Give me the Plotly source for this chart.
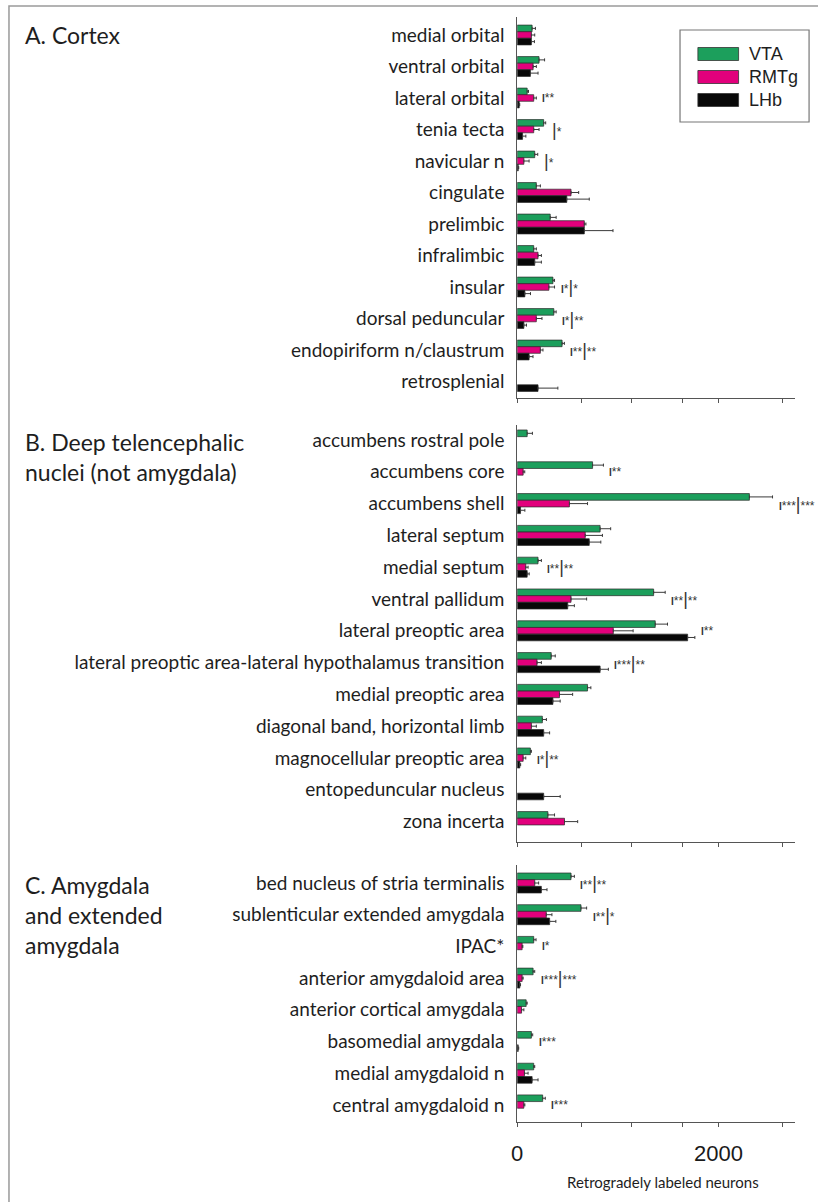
import plotly.graph_objects as go

W, H = 818, 1202

SERIES = ["VTA", "RMTg", "LHb"]
COLORS = {"VTA": "#1c9f5c", "RMTg": "#e2007c", "LHb": "#080808"}

# ---- A. Cortex ----
cortex = ["medial orbital", "ventral orbital", "lateral orbital", "tenia tecta",
          "navicular n", "cingulate", "prelimbic", "infralimbic", "insular",
          "dorsal peduncular", "endopiriform n/claustrum", "retrosplenial"]
cortex_vta = [148, 217, 99, 263, 174, 190, 328, 164, 355, 364, 446, None]
cortex_vta_err = [33, 55, 13, 20, 30, 40, 59, 26, 16, 23, 23, 0]
cortex_rmtg = [141, 158, 164, 164, 66, 535, 667, 207, 315, 190, 230, None]
cortex_rmtg_err = [33, 32, 26, 53, 52, 76, 16, 33, 56, 56, 26, 0]
cortex_lhb = [141, 131, 20, 53, 10, 493, 667, 174, 76, 66, 118, 207]
cortex_lhb_err = [30, 76, 5, 33, 5, 223, 285, 66, 56, 26, 39, 197]
cortex_sig = {"lateral orbital": "I**", "tenia tecta": "|*", "navicular n": "|*",
              "insular": "I*|*", "dorsal peduncular": "I*|**",
              "endopiriform n/claustrum": "I**|**"}

# ---- B. Deep telencephalic nuclei ----
deep = ["accumbens rostral pole", "accumbens core", "accumbens shell",
        "lateral septum", "medial septum", "ventral pallidum",
        "lateral preoptic area",
        "lateral preoptic area-lateral hypothalamus transition",
        "medial preoptic area", "diagonal band, horizontal limb",
        "magnocellular preoptic area", "entopeduncular nucleus", "zona incerta"]
deep_vta = [99, 749, 2308, 824, 207, 1356, 1372, 338, 699, 250, 131, None, 305]
deep_vta_err = [52, 108, 230, 105, 33, 115, 122, 40, 33, 40, 10, 0, 66]
deep_rmtg = [None, 59, 519, 676, 85, 535, 955, 197, 420, 141, 59, None, 470]
deep_rmtg_err = [0, 16, 180, 171, 23, 155, 197, 43, 131, 49, 26, 0, 131]
deep_lhb = [None, None, 33, 716, 99, 502, 1694, 824, 355, 263, 26, 263, None]
deep_lhb_err = [0, 0, 43, 115, 20, 66, 72, 82, 72, 59, 8, 164, 0]
deep_sig = {"accumbens core": "I**", "accumbens shell": "I***|***",
            "medial septum": "I**|**", "ventral pallidum": "I**|**",
            "lateral preoptic area": "I**",
            "lateral preoptic area-lateral hypothalamus transition": "I***|**",
            "magnocellular preoptic area": "I*|**"}

# ---- C. Amygdala and extended amygdala ----
amyg = ["bed nucleus of stria terminalis", "sublenticular extended amygdala",
        "IPAC*", "anterior amygdaloid area", "anterior cortical amygdala",
        "basomedial amygdala", "medial amygdaloid n", "central amygdaloid n"]
amyg_vta = [535, 634, 164, 158, 89, 141, 164, 253]
amyg_vta_err = [33, 56, 23, 16, 10, 13, 10, 26]
amyg_rmtg = [174, 289, 49, 49, 43, None, 72, 66]
amyg_rmtg_err = [39, 56, 7, 10, 23, 0, 36, 10]
amyg_lhb = [240, 322, None, 26, None, 10, 148, None]
amyg_lhb_err = [56, 62, 0, 7, 0, 5, 59, 0]
amyg_sig = {"bed nucleus of stria terminalis": "I**|**",
            "sublenticular extended amygdala": "I**|*", "IPAC*": "I*",
            "anterior amygdaloid area": "I***|***",
            "basomedial amygdala": "I***", "central amygdaloid n": "I***"}

x_tickvals = [0, 640, 1135, 1645, 2000, 2640]
x_ticktext = ["0", "", "", "", "2000", ""]
x_max = 2763

panels = [
    dict(cats=cortex, title="A. Cortex",
         vals=[cortex_vta, cortex_rmtg, cortex_lhb],
         errs=[cortex_vta_err, cortex_rmtg_err, cortex_lhb_err], sig=cortex_sig,
         top=17, bottom=398, first_row=35, row_step=31.5, head=19),
    dict(cats=deep, title="B. Deep telencephalic<br>nuclei (not amygdala)",
         vals=[deep_vta, deep_rmtg, deep_lhb],
         errs=[deep_vta_err, deep_rmtg_err, deep_lhb_err], sig=deep_sig,
         top=425, bottom=842, first_row=440, row_step=31.8, head=426),
    dict(cats=amyg, title="C. Amygdala<br>and extended<br>amygdala",
         vals=[amyg_vta, amyg_rmtg, amyg_lhb],
         errs=[amyg_vta_err, amyg_rmtg_err, amyg_lhb_err], sig=amyg_sig,
         top=865, bottom=1122, first_row=883, row_step=31.7, head=869),
]

LABEL_FONT = "Lato, 'Open Sans', sans-serif"
SANS = "Liberation Sans, Arial, sans-serif"
AX_X0, AX_X1 = 515, 795


def px_x(x):
    return x / W


def px_y(y):
    return 1 - y / H


def sig_text(code):
    out = []
    for ch in code:
        if ch == "I":
            out.append('<span style="font-size:10px"><b>I</b></span>')
        elif ch == "|":
            out.append('<span style="font-size:18px">|</span>')
        else:
            out.append('<span style="font-size:12px">*</span>')
    return "".join(out)


fig = go.Figure()
layout = {}
annotations = []
shapes = []

for i, p in enumerate(panels, start=1):
    xa = "x" if i == 1 else f"x{i}"
    ya = "y" if i == 1 else f"y{i}"
    for name, vals, errs in zip(SERIES, p["vals"], p["errs"]):
        fig.add_trace(go.Bar(
            y=p["cats"], x=vals, orientation="h", name=name,
            marker=dict(color=COLORS[name], line=dict(color="#2a2a2a", width=0.7)),
            error_x=dict(type="data", array=errs, arrayminus=[0] * len(errs),
                         symmetric=False, color="#3a3a3a", thickness=1, width=1.5),
            xaxis=xa, yaxis=ya, showlegend=False,
        ))
    y_lo = (p["top"] - p["first_row"]) / p["row_step"]
    y_hi = (p["bottom"] - p["first_row"]) / p["row_step"]
    layout["xaxis" if i == 1 else f"xaxis{i}"] = dict(
        domain=[px_x(AX_X0), px_x(AX_X1)], range=[0, x_max], anchor=ya,
        showline=True, linecolor="#555", linewidth=1, showgrid=False,
        zeroline=False, ticks="outside", ticklen=4, tickcolor="#555",
        tickvals=x_tickvals, ticktext=x_ticktext, showticklabels=(i == 3),
        tickfont=dict(family=SANS, size=22, color="#1a1a1a"),
        ticklabelstandoff=8, fixedrange=True,
    )
    layout["yaxis" if i == 1 else f"yaxis{i}"] = dict(
        domain=[px_y(p["bottom"]), px_y(p["top"])], range=[y_hi, y_lo],
        anchor=xa, type="category", categoryorder="array",
        categoryarray=p["cats"], showline=True, linecolor="#555", linewidth=1,
        showgrid=False, zeroline=False, ticks="",
        tickfont=dict(family=LABEL_FONT, size=19, color="#1e1e1e"),
        ticklabelstandoff=8, fixedrange=True,
    )
    # significance marks sit just past the longest bar + error of each group
    for cat, code in p["sig"].items():
        k = p["cats"].index(cat)
        reach = max((v[k] or 0) + (e[k] or 0) for v, e in zip(p["vals"], p["errs"]))
        annotations.append(dict(
            x=reach, y=cat, xref=xa, yref=ya, text=sig_text(code),
            showarrow=False, xanchor="left", yanchor="middle", xshift=4,
            font=dict(family=SANS, color="#333", size=11),
        ))
    # panel heading
    annotations.append(dict(
        x=px_x(17), y=px_y(p["head"]), xref="paper", yref="paper",
        text=p["title"], showarrow=False, xanchor="left", yanchor="top",
        align="left", font=dict(family=LABEL_FONT, size=23, color="#1e1e1e"),
    ))

# x-axis title
annotations.append(dict(
    x=px_x(662), y=px_y(1182), xref="paper", yref="paper",
    text="Retrogradely labeled neurons", showarrow=False,
    xanchor="center", yanchor="middle",
    font=dict(family=LABEL_FONT, size=15, color="#1e1e1e"),
))

# legend box with wide swatches
shapes.append(dict(type="rect", xref="paper", yref="paper",
                   x0=px_x(679), x1=px_x(809), y0=px_y(122), y1=px_y(30),
                   line=dict(color="#777", width=1.2), fillcolor="white"))
for name, yc in zip(SERIES, [54, 77, 100]):
    shapes.append(dict(type="rect", xref="paper", yref="paper",
                       x0=px_x(697), x1=px_x(738), y0=px_y(yc + 6.5), y1=px_y(yc - 6.5),
                       line=dict(color="#333", width=0.8), fillcolor=COLORS[name]))
    annotations.append(dict(
        x=px_x(746), y=px_y(yc), xref="paper", yref="paper", text=name,
        showarrow=False, xanchor="left", yanchor="middle",
        font=dict(family=SANS, size=18, color="#1e1e1e"),
    ))

# outer frame
shapes.append(dict(type="rect", xref="paper", yref="paper",
                   x0=px_x(3), x1=px_x(830), y0=px_y(1215), y1=px_y(6),
                   line=dict(color="#9a9a9a", width=1.5), layer="below"))

fig.update_layout(
    width=W, height=H, margin=dict(l=0, r=0, t=0, b=0),
    paper_bgcolor="white", plot_bgcolor="white",
    barmode="group", bargap=0.37, bargroupgap=0,
    annotations=annotations, shapes=shapes, showlegend=False,
    **layout,
)

fig.write_html("out.html", config={"displayModeBar": False})
